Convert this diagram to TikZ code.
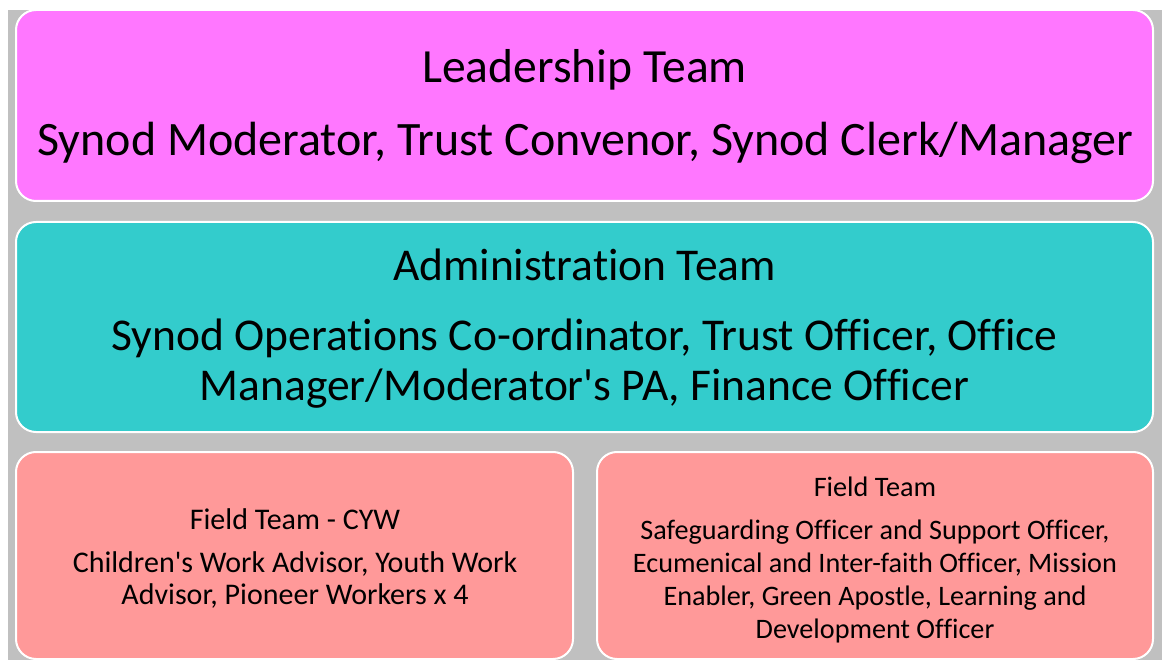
\documentclass[tikz,border=0pt]{standalone}
\usepackage{fontspec}
\setmainfont{Carlito}[RawFeature={-liga;-dlig;-clig}]
\definecolor{bggray}{RGB}{192,192,192}
\definecolor{leadpink}{RGB}{255,119,255}
\definecolor{adminteal}{RGB}{51,204,204}
\definecolor{fieldred}{RGB}{255,153,153}
\tikzset{
  teambox/.style={draw=white, line width=2pt, rounded corners=20pt},
  txt/.style={anchor=base, inner sep=0pt, text=black},
  leadtfont/.style={font=\fontsize{47.6}{50}\selectfont},
  leadfont/.style={font=\fontsize{48}{50}\selectfont},
  adminfont/.style={font=\fontsize{45.5}{48}\selectfont},
  cywfont/.style={font=\fontsize{30}{32}\selectfont},
  fieldfont/.style={font=\fontsize{28.2}{31}\selectfont}
}
\begin{document}
\begin{tikzpicture}[x=1pt,y=-1pt]
\useasboundingbox (0,0) rectangle (1162,660);
\fill[white] (0,0) rectangle (1162,660);
\fill[bggray] (8,10) rectangle (1162,660);
% boxes
\draw[teambox, fill=leadpink] (16,10) rectangle (1153,201);
\draw[teambox, fill=adminteal] (16,222) rectangle (1153,432);
\draw[teambox, fill=fieldred] (16,452) rectangle (573,659);
\draw[teambox, fill=fieldred] (597,452) rectangle (1153,659);
% leadership
\node[txt, leadtfont] (leadT) at (584.5,83) {Leadership Team};
\node[txt, leadfont] (leadB) at (585.5,156) {Synod Moderator, Trust Convenor, Synod Clerk/Manager};
% administration
\node[txt, adminfont] (admT) at (584.5,281) {Administration Team};
\node[txt, adminfont] (admB1) at (584.5,351) {Synod Operations Co-ordinator, Trust Officer, Office};
\node[txt, adminfont] (admB2) at (584.5,400) {Manager/Moderator\textquotesingle s PA, Finance Officer};
% field team CYW
\node[txt, cywfont] (cywT) at (295,529) {Field Team - CYW};
\node[txt, cywfont] (cywB1) at (295,572) {Children\textquotesingle s Work Advisor, Youth Work};
\node[txt, cywfont] (cywB2) at (295,604) {Advisor, Pioneer Workers x 4};
% field team
\node[txt, fieldfont] (fldT) at (875,496) {Field Team};
\node[txt, fieldfont] (fldB1) at (875,539) {Safeguarding Officer and Support Officer,};
\node[txt, fieldfont] (fldB2) at (875,572) {Ecumenical and Inter-faith Officer, Mission};
\node[txt, fieldfont] (fldB3) at (875,605) {Enabler, Green Apostle, Learning and};
\node[txt, fieldfont] (fldB4) at (875,638) {Development Officer};
\end{tikzpicture}
\end{document}
